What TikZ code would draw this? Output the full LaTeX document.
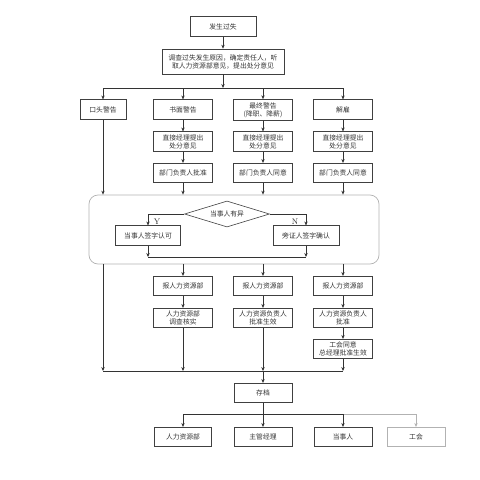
\documentclass[tikz,border=0pt]{standalone}
\usepackage{fontspec}
\newfontfamily\cjk{Noto Sans CJK SC}
\usetikzlibrary{arrows.meta,shapes.geometric,calc}
\begin{document}
\begin{tikzpicture}[x=1pt,y=-1pt,
  box/.style={draw=black!75, line width=0.6pt, text=black!80,
    font=\cjk\fontsize{6.8}{8}\selectfont, align=center, inner sep=1pt,
    minimum height=19.5pt, minimum width=59pt},
  graybox/.style={box, draw=black!30},
  ln/.style={draw=black!80, line width=0.7pt},
  arr/.style={ln, -{Stealth[length=4pt,width=3.4pt]}},
  garr/.style={draw=black!30, line width=0.7pt, -{Stealth[length=4pt,width=3.4pt]}},
  lab/.style={font=\fontsize{8}{9}\selectfont, text=black!85, inner sep=0pt}
]
\useasboundingbox (0,0) rectangle (480,480);

% top
\node[box, minimum width=66pt] (f1) at (223,26.5) {发生过失};
\node[box, minimum width=122pt, minimum height=25pt] (f2) at (223,61.5)
  {调查过失发生原因，确定责任人，听\\取人力资源部意见，提出处分意见};
\coordinate (L1) at (0,88);

% row 1
\node[box, minimum width=46pt] (r1) at (103,109.5) {口头警告};
\node[box] (b1) at (183,109.5) {书面警告};
\node[box, minimum height=21pt] (c1) at (263,110) {最终警告\\(降职、降薪)};
\node[box] (d1) at (343,109.5) {解雇};

% row 2
\node[box] (b2) at (183,141.5) {直接经理提出\\处分意见};
\node[box] (c2) at (263,141.5) {直接经理提出\\处分意见};
\node[box] (d2) at (343,141.5) {直接经理提出\\处分意见};

% row 3
\node[box] (b3) at (183,173) {部门负责人批准};
\node[box] (c3) at (263,173) {部门负责人同意};
\node[box] (d3) at (343,173) {部门负责人同意};

% group
\node[draw=black!30, rounded corners=9pt, minimum width=290pt, minimum height=69pt,
  line width=0.7pt, inner sep=0pt] (grp) at (234,229.5) {};
\node[diamond, draw=black!75, line width=0.6pt, text=black!80,
  font=\cjk\fontsize{6.8}{8}\selectfont, minimum width=85pt, minimum height=26pt,
  inner sep=0pt, aspect=3.2] (dia) at (227,214) {当事人有异};
\node[box, minimum width=65pt] (y1) at (148,235.5) {当事人签字认可};
\node[box, minimum width=66pt] (n1) at (306,235.5) {旁证人签字确认};
\node[lab] (ylab) at (157,222) {Y};
\node[lab] (nlab) at (295,222) {N};
\coordinate (J) at (0,257);

% lower
\node[box] (b4) at (183,286) {报人力资源部};
\node[box] (c4) at (263,286) {报人力资源部};
\node[box] (d4) at (343,286) {报人力资源部};
\node[box] (b5) at (183,318) {人力资源部\\调查核实};
\node[box] (c5) at (263,318) {人力资源负责人\\批准生效};
\node[box] (d5) at (343,318) {人力资源负责人\\批准};
\node[box] (d6) at (343,349) {工会同意\\总经理批准生效};
\coordinate (L2) at (0,371);

\node[box, minimum width=58pt] (s) at (263,393) {存档};
\coordinate (L3) at (0,414);
\node[box, minimum width=57pt] (e1) at (183,437) {人力资源部};
\node[box, minimum width=58pt] (e2) at (263,437) {主管经理};
\node[box, minimum width=58pt] (e3) at (343,437) {当事人};
\node[graybox, minimum width=58pt] (e4) at (416,437) {工会};

% connectors top
\draw[arr] (f1) -- (f2);
\draw[arr] (f2.south) -- (f2.south |- L1);
\draw[ln] (r1 |- L1) -- (d1 |- L1);
\foreach \n in {r1,b1,c1,d1} \draw[arr] (\n |- L1) -- (\n.north);
\draw[arr] (b1) -- (b2);
\draw[arr] (c1) -- (c2);
\draw[arr] (d1) -- (d2);
\draw[arr] (b2) -- (b3);
\draw[arr] (c2) -- (c3);
\draw[arr] (d2) -- (d3);
\draw[arr] (r1.south) -- (r1.south |- grp.north);
\foreach \n in {b3,c3,d3} \draw[arr] (\n.south) -- (\n.south |- grp.north);

% inside group
\draw[arr] (dia.west) -| (y1.north);
\draw[arr] (dia.east) -| (n1.north);
\draw[arr] (y1.south) -- (y1.south |- J);
\draw[arr] (n1.south) -- (n1.south |- J);
\draw[ln] (y1 |- J) -- (n1 |- J);

% below group
\draw[arr] (r1.south |- grp.south) -- (r1 |- L2);
\draw[arr] (b4 |- grp.south) -- (b4.north);
\draw[arr] (c4 |- grp.south) -- (c4.north);
\draw[arr] (d4 |- grp.south) -- (d4.north);
\draw[arr] (b4) -- (b5);
\draw[arr] (c4) -- (c5);
\draw[arr] (d4) -- (d5);
\draw[arr] (d5) -- (d6);
\draw[arr] (b5.south) -- (b5 |- L2);
\draw[arr] (c5.south) -- (c5 |- L2);
\draw[arr] (d6.south) -- (d6 |- L2);
\draw[ln] (r1 |- L2) -- (d6 |- L2);
\draw[arr] (s |- L2) -- (s.north);

% bottom
\draw[ln] (s.south) -- (s |- L3);
\draw[ln] (e1 |- L3) -- (e3 |- L3);
\draw[draw=black!30, line width=0.7pt] (e3 |- L3) -- (e4 |- L3);
\foreach \n in {e1,e2,e3} \draw[arr] (\n |- L3) -- (\n.north);
\draw[garr] (e4 |- L3) -- (e4.north);
\end{tikzpicture}
\end{document}
